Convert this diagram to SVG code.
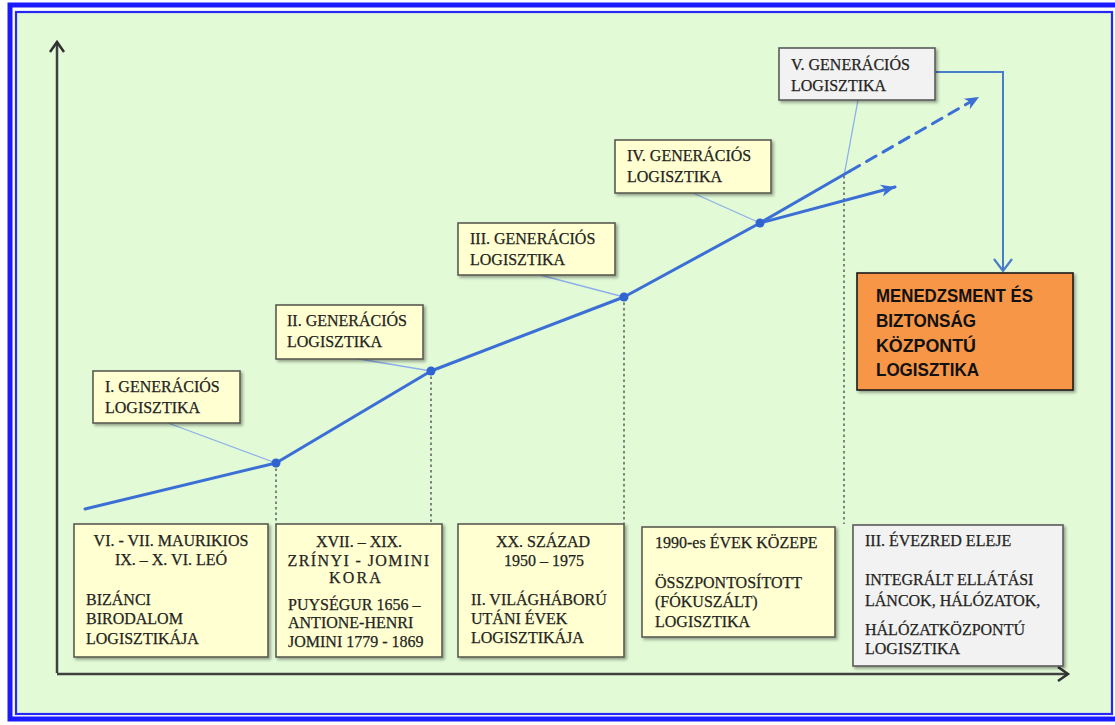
<svg xmlns="http://www.w3.org/2000/svg" width="1115" height="725" viewBox="0 0 1115 725">
  <style>
    .lbl { fill: #FFFFD2; stroke: #5b5b52; stroke-width: 1.6; }
    .lbl-grey { fill: #F2F2F2; stroke: #5b5b5b; stroke-width: 1.6; }
    .t { font-family: "Liberation Serif", "Times New Roman", serif; font-size: 16px; fill: #24241e; stroke: #24241e; stroke-width: 0.25; }
    .tc { text-anchor: middle; }
    .tb { font-family: "Liberation Sans", Arial, sans-serif; font-weight: bold; font-size: 18px; fill: #111; }
    .trend { fill: none; stroke: #3b6fd6; stroke-width: 3; stroke-linecap: round; stroke-linejoin: round; }
    .leader { fill: none; stroke: #8db0ea; stroke-width: 1.3; }
    .drop { fill: none; stroke: #5e5e5e; stroke-width: 1.5; stroke-dasharray: 2.5 3; }
    .axis { fill: none; stroke: #404040; stroke-width: 2.5; }
    .dot { fill: #2f63d0; }
  </style>
  <defs>
    <marker id="axisHead" markerUnits="userSpaceOnUse" markerWidth="20" markerHeight="20" viewBox="0 0 20 20" refX="16" refY="10" orient="auto">
      <path d="M6,3 L16,10 L6,17" fill="none" stroke="#303030" stroke-width="2.5" stroke-linejoin="miter"/>
    </marker>
    <marker id="blueHead" markerUnits="userSpaceOnUse" markerWidth="20" markerHeight="20" viewBox="0 0 20 20" refX="17" refY="10" orient="auto">
      <path d="M3,4 L17,10 L3,16 L7,10 Z" fill="#3b6fd6"/>
    </marker>
    <marker id="openBlue" markerUnits="userSpaceOnUse" markerWidth="24" markerHeight="24" viewBox="0 0 24 24" refX="20" refY="12" orient="auto">
      <path d="M8,3 L20,12 L8,21" fill="none" stroke="#4a7ccc" stroke-width="2.2"/>
    </marker>
    <filter id="shadow" x="-10%" y="-10%" width="125%" height="130%">
      <feDropShadow dx="2" dy="2" stdDeviation="1.5" flood-color="#000" flood-opacity="0.35"/>
    </filter>
  </defs>

  <!-- page frame: double blue border on light green -->
  <rect x="0" y="0" width="1115" height="725" fill="#ffffff"/>
  <rect x="10" y="5" width="1115" height="714" fill="none" stroke="#1a1aff" stroke-width="5"/>
  <rect x="16" y="12" width="1096" height="702" fill="#E2FAD6" stroke="#2626f5" stroke-width="2.2"/>

  <!-- axes -->
  <g id="axes">
    <path class="axis" d="M57,673 L57,42" marker-end="url(#axisHead)"/>
    <path class="axis" d="M57,674 L1068,674" marker-end="url(#axisHead)"/>
  </g>

  <!-- connectors: trend line, drop lines, leaders -->
  <g id="connectors">
    <path class="drop" d="M276,463 V522"/>
    <path class="drop" d="M431,371 V524"/>
    <path class="drop" d="M624,297 V524"/>
    <path class="drop" d="M844,176 V524"/>

    <path class="leader" d="M168,423 L276,463"/>
    <path class="leader" d="M353,358 L431,371"/>
    <path class="leader" d="M540,275 L624,297"/>
    <path class="leader" d="M693,193 L760,223"/>
    <path class="leader" d="M858,100 L844,176"/>

    <path class="trend" d="M85,509 L276,463 L431,371 L624,297 L760,223"/>
    <path class="trend" d="M760,223 L895,187" marker-end="url(#blueHead)"/>
    <path class="trend" d="M760,223 L850,171"/>
    <path class="trend" d="M850,171 L979,97" stroke-dasharray="11 8" stroke-linecap="butt" marker-end="url(#blueHead)"/>

    <circle class="dot" cx="276" cy="463" r="4.5"/>
    <circle class="dot" cx="431" cy="371" r="4.5"/>
    <circle class="dot" cx="624" cy="297" r="4.5"/>
    <circle class="dot" cx="760" cy="223" r="4.5"/>

    <path d="M935,72 H1003 V271" fill="none" stroke="#4a7ccc" stroke-width="2" marker-end="url(#openBlue)"/>
  </g>

  <!-- generation labels -->
  <g id="gen1">
    <rect class="lbl" x="93" y="371" width="147" height="52" filter="url(#shadow)"/>
    <text class="t" x="105" y="392">I. GENERÁCIÓS</text>
    <text class="t" x="105" y="413">LOGISZTIKA</text>
  </g>
  <g id="gen2">
    <rect class="lbl" x="276" y="305" width="147" height="54" filter="url(#shadow)"/>
    <text class="t" x="287" y="326">II. GENERÁCIÓS</text>
    <text class="t" x="287" y="347">LOGISZTIKA</text>
  </g>
  <g id="gen3">
    <rect class="lbl" x="458" y="223" width="157" height="52" filter="url(#shadow)"/>
    <text class="t" x="470" y="244">III. GENERÁCIÓS</text>
    <text class="t" x="470" y="265">LOGISZTIKA</text>
  </g>
  <g id="gen4">
    <rect class="lbl" x="615" y="140" width="156" height="53" filter="url(#shadow)"/>
    <text class="t" x="627" y="161">IV. GENERÁCIÓS</text>
    <text class="t" x="627" y="182">LOGISZTIKA</text>
  </g>
  <g id="gen5">
    <rect class="lbl-grey" x="779" y="48" width="156" height="52" filter="url(#shadow)"/>
    <text class="t" x="791" y="70">V. GENERÁCIÓS</text>
    <text class="t" x="791" y="91">LOGISZTIKA</text>
  </g>

  <!-- highlighted target -->
  <g id="target">
    <rect x="857" y="273" width="216" height="117" fill="#F79646" stroke="#1a1a1a" stroke-width="1.6" filter="url(#shadow)"/>
    <text class="tb" x="876" y="302" textLength="157" lengthAdjust="spacingAndGlyphs">MENEDZSMENT ÉS</text>
    <text class="tb" x="876" y="327" textLength="100" lengthAdjust="spacingAndGlyphs">BIZTONSÁG</text>
    <text class="tb" x="876" y="352" textLength="100" lengthAdjust="spacingAndGlyphs">KÖZPONTÚ</text>
    <text class="tb" x="876" y="376" textLength="103" lengthAdjust="spacingAndGlyphs">LOGISZTIKA</text>
  </g>

  <!-- period boxes along the time axis -->
  <g id="period1">
    <rect class="lbl" x="74" y="524" width="194" height="133" filter="url(#shadow)"/>
    <text class="t tc" x="171" y="546">VI. - VII. MAURIKIOS</text>
    <text class="t tc" x="171" y="565">IX. – X. VI. LEÓ</text>
    <text class="t" x="86" y="605">BIZÁNCI</text>
    <text class="t" x="86" y="624">BIRODALOM</text>
    <text class="t" x="86" y="644">LOGISZTIKÁJA</text>
  </g>
  <g id="period2">
    <rect class="lbl" x="276" y="524" width="166" height="133" filter="url(#shadow)"/>
    <text class="t tc" x="359" y="547">XVII. – XIX.</text>
    <text class="t tc" x="359" y="566" letter-spacing="1.4">ZRÍNYI - JOMINI</text>
    <text class="t tc" x="356" y="583" letter-spacing="2.2">KORA</text>
    <text class="t" x="288" y="610">PUYSÉGUR 1656 –</text>
    <text class="t" x="288" y="628">ANTIONE-HENRI</text>
    <text class="t" x="288" y="647">JOMINI 1779 - 1869</text>
  </g>
  <g id="period3">
    <rect class="lbl" x="458" y="524" width="166" height="133" filter="url(#shadow)"/>
    <text class="t tc" x="543" y="547">XX. SZÁZAD</text>
    <text class="t tc" x="544" y="566">1950 – 1975</text>
    <text class="t" x="471" y="605">II. VILÁGHÁBORÚ</text>
    <text class="t" x="471" y="624">UTÁNI ÉVEK</text>
    <text class="t" x="471" y="643">LOGISZTIKÁJA</text>
  </g>
  <g id="period4">
    <rect class="lbl" x="642" y="527" width="193" height="110" filter="url(#shadow)"/>
    <text class="t" x="655" y="548">1990-es ÉVEK KÖZEPE</text>
    <text class="t" x="655" y="588">ÖSSZPONTOSÍTOTT</text>
    <text class="t" x="655" y="607">(FÓKUSZÁLT)</text>
    <text class="t" x="655" y="627">LOGISZTIKA</text>
  </g>
  <g id="period5">
    <rect class="lbl-grey" x="853" y="525" width="210" height="141" filter="url(#shadow)"/>
    <text class="t" x="865" y="546">III. ÉVEZRED ELEJE</text>
    <text class="t" x="865" y="585">INTEGRÁLT ELLÁTÁSI</text>
    <text class="t" x="865" y="606">LÁNCOK, HÁLÓZATOK,</text>
    <text class="t" x="865" y="635">HÁLÓZATKÖZPONTÚ</text>
    <text class="t" x="865" y="654">LOGISZTIKA</text>
  </g>
</svg>
